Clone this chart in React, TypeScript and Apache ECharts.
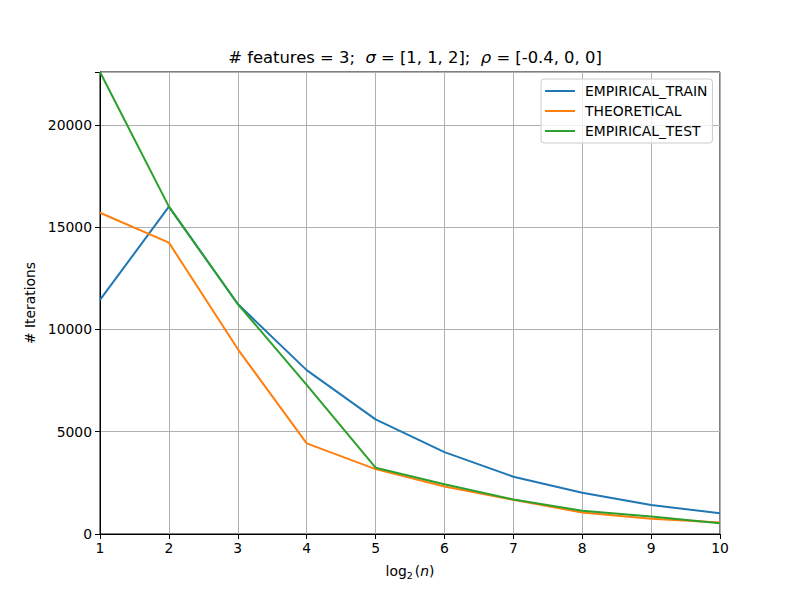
import React, { useEffect, useRef } from "react";
import * as echarts from "echarts";

const logN = [1, 2, 3, 4, 5, 6, 7, 8, 9, 10];
const empiricalTrain = [11440, 16000, 11240, 8010, 5600, 4000, 2800, 2020, 1420, 1010];
const theoretical = [15700, 14240, 9040, 4430, 3170, 2320, 1670, 1050, 740, 560];
const empiricalTest = [22580, 16000, 11240, 7290, 3240, 2430, 1690, 1140, 850, 530];
const yTicks = [0, 5000, 10000, 15000, 20000];

const FONT = "DejaVu Sans";
const FS = 13.9;

const pairs = (ys: number[]) => logN.map((x, i) => [x, ys[i]]);

export default function App() {
  const ref = useRef<HTMLDivElement>(null);

  useEffect(() => {
    if (!ref.current) return;
    const chart = echarts.init(ref.current, null, { renderer: "svg" });
    const lineSeries = (name: string, color: string, ys: number[]) => ({
      name,
      type: "line",
      data: pairs(ys),
      symbol: "none",
      lineStyle: { color, width: 2 },
      itemStyle: { color },
      z: 3,
    });
    chart.setOption({
      animation: false,
      backgroundColor: "#ffffff",
      textStyle: { fontFamily: FONT },
      title: {
        text: "# features = 3;  {i|σ} = [1, 1, 2];  {i|ρ} = [-0.4, 0, 0]",
        left: 410,
        textAlign: "center",
        top: 44,
        textStyle: {
          fontFamily: FONT,
          fontSize: 16.4,
          fontWeight: "normal",
          color: "#000",
          rich: {
            i: { fontFamily: FONT, fontSize: 16.4, fontStyle: "italic", color: "#000" },
          },
        },
      },
      legend: {
        orient: "vertical",
        left: 541,
        top: 79,
        padding: [5, 5, 5, 4],
        itemGap: 6,
        itemWidth: 30,
        itemHeight: 2,
        icon: "rect",
        backgroundColor: "rgba(255,255,255,0.8)",
        borderColor: "#cccccc",
        borderWidth: 1,
        borderRadius: 3,
        textStyle: { fontFamily: FONT, fontSize: FS, color: "#000", padding: [0, 0, 0, 5] },
        data: ["EMPIRICAL_TRAIN", "THEORETICAL", "EMPIRICAL_TEST"],
      },
      grid: {
        left: 100,
        right: 80,
        top: 72,
        bottom: 66,
        show: true,
        borderColor: "#000",
        borderWidth: 1,
        backgroundColor: "transparent",
      },
      xAxis: {
        type: "value",
        min: 1,
        max: 10,
        interval: 1,
        name: "{t|log}{s|2}{t|(}{i|n}{t|)}",
        nameLocation: "middle",
        nameGap: 28,
        nameTextStyle: {
          rich: {
            t: { fontFamily: FONT, fontSize: FS, color: "#000" },
            s: { fontFamily: FONT, fontSize: 9.5, color: "#000", padding: [8, 2, 0, 0] },
            i: { fontFamily: FONT, fontSize: FS, fontStyle: "italic", color: "#000" },
          },
        },
        axisLine: { show: true, onZero: false, lineStyle: { color: "#000", width: 1 } },
        axisTick: { show: true, length: 5, lineStyle: { color: "#000" } },
        axisLabel: { fontFamily: FONT, fontSize: FS, color: "#000", margin: 7 },
        splitLine: { show: true, lineStyle: { color: "#b0b0b0", width: 1 } },
      },
      yAxis: {
        type: "value",
        min: 0,
        max: "dataMax",
        interval: 5000,
        name: "# Iterations",
        nameLocation: "middle",
        nameGap: 60,
        nameTextStyle: { fontFamily: FONT, fontSize: FS, color: "#000" },
        axisLine: { show: true, lineStyle: { color: "#000", width: 1 } },
        axisTick: { show: true, length: 5, lineStyle: { color: "#000" } },
        axisLabel: {
          fontFamily: FONT,
          fontSize: FS,
          color: "#000",
          margin: 8,
          formatter: (v: number) => (yTicks.includes(v) ? String(v) : ""),
        },
        splitLine: { show: true, lineStyle: { color: "#b0b0b0", width: 1 } },
      },
      series: [
        lineSeries("EMPIRICAL_TRAIN", "#1f77b4", empiricalTrain),
        lineSeries("THEORETICAL", "#ff7f0e", theoretical),
        lineSeries("EMPIRICAL_TEST", "#2ca02c", empiricalTest),
      ],
    });
    return () => chart.dispose();
  }, []);

  return <div ref={ref} style={{ width: 800, height: 600, margin: -8 }} />;
}
